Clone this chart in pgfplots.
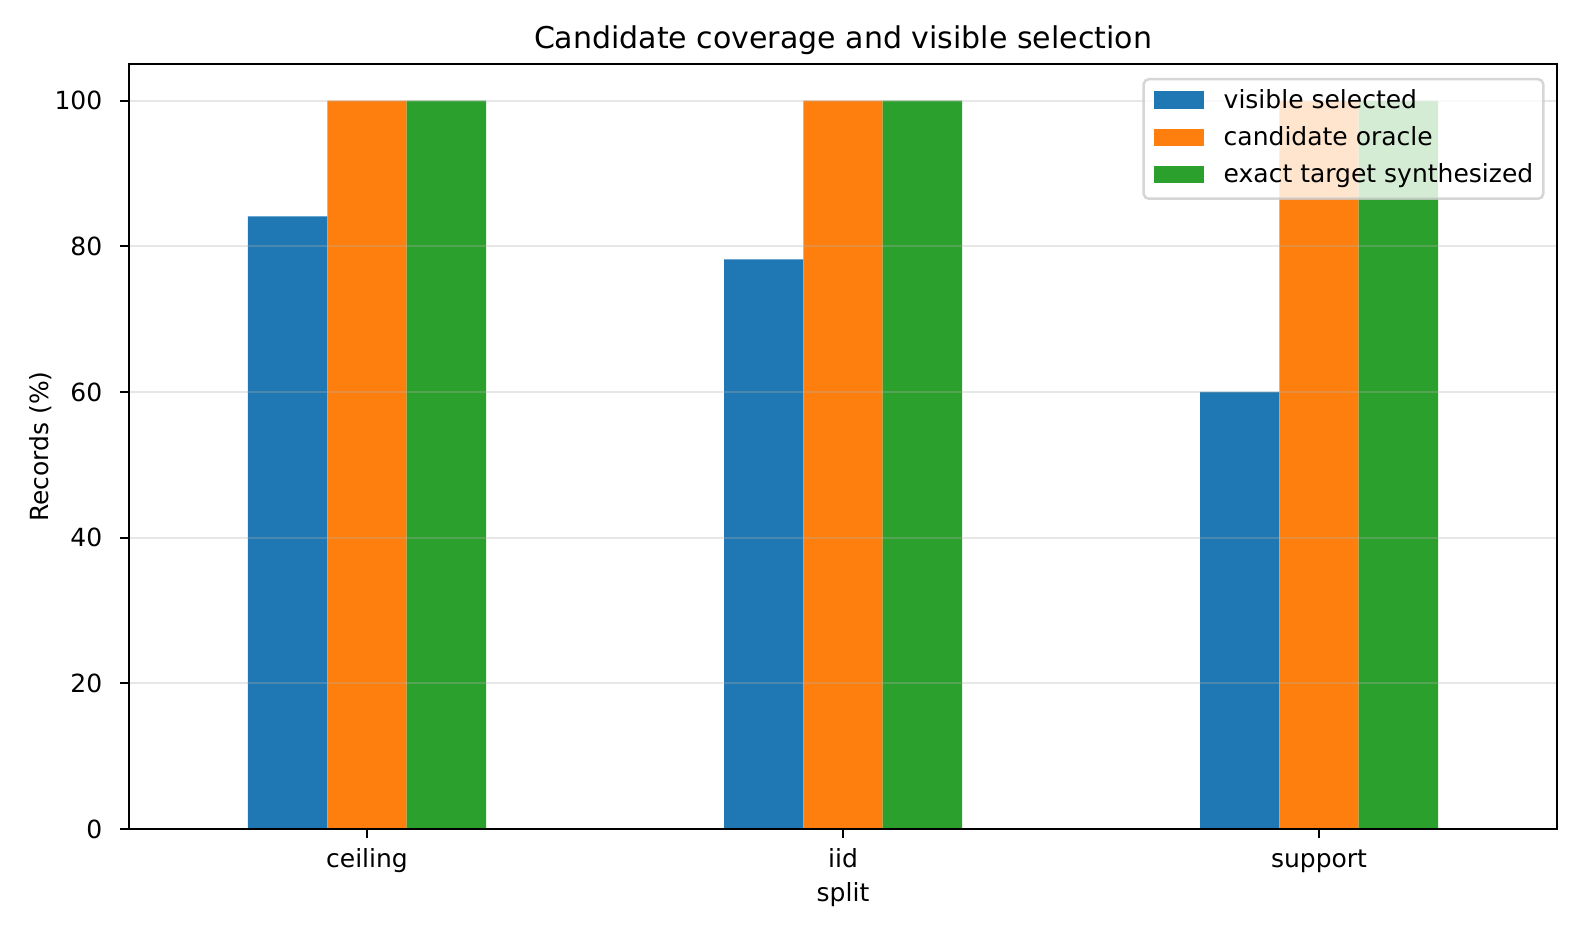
\documentclass[border=0pt]{standalone}
\usepackage{pgfplots}
\pgfplotsset{compat=1.18}
\usepackage{fontspec}
\setmainfont{DejaVu Sans}
\definecolor{cblue}{HTML}{1F77B4}
\definecolor{corange}{HTML}{FF7F0E}
\definecolor{cgreen}{HTML}{2CA02C}
\newcommand{\fsn}{\fontsize{10bp}{12bp}\selectfont}
\newcommand{\fst}{\fontsize{12bp}{14.4bp}\selectfont}
\begin{document}
\fsn
\begin{tikzpicture}
\useasboundingbox (0,0) rectangle (633.6bp,374.4bp);
\begin{axis}[
  at={(51.6bp,42.8bp)}, anchor=south west,
  scale only axis, width=571.2bp, height=305.9bp,
  xmin=-0.5, xmax=2.5, ymin=0, ymax=105,
  xtick={0,1,2}, xticklabels={ceiling,iid,support},
  ytick={0,20,40,60,80,100},
  tick pos=left, tick align=outside,
  major tick length=3.5bp,
  every tick/.style={black, line width=0.8bp},
  axis line style={line width=0.8bp},
  ymajorgrids,
  grid style={color=black!31, draw opacity=0.3, line width=0.8bp},
  axis on top,
  /pgf/number format/assume math mode=true,
  xticklabel style={font=\fsn, anchor=base, inner sep=0pt, yshift=-12bp},
  yticklabel style={font=\fsn, anchor=east, inner sep=0pt, xshift=-7bp},
  title={Candidate coverage and visible selection},
  every axis title/.style={font=\fst, at={(0.5,1)}, anchor=base, yshift=6.4bp, inner sep=0pt},
  xlabel={split},
  xlabel style={font=\fsn, at={([yshift=-28.8bp]axis description cs:0.5,0)}, anchor=base, inner sep=0pt},
  ylabel={Records (\%)},
  ylabel style={font=\fsn, at={([xshift=-32.3bp]axis description cs:0,0.5)}, anchor=base, rotate=0, inner sep=0pt},
  legend style={at={(1,1)}, anchor=north east, xshift=-5bp, yshift=-5.5bp,
    draw=black!20, draw opacity=0.8, line width=1bp, fill=white, fill opacity=0.8, text opacity=1,
    rounded corners=2bp, inner xsep=4bp, inner ysep=4bp, row sep=4.9bp, column sep=8bp, font=\fsn,
    nodes={inner sep=0pt, text height=7.6bp, text depth=2.4bp, anchor=base west}},
  legend cell align=left,
]
\addplot[ybar, fill=cblue, draw=none, bar width=0.1666667, bar shift=-0.1666667,
  legend image code/.code={\fill[fill=cblue, fill opacity=1, sharp corners] (0bp,-0.3bp) rectangle (20bp,6.7bp);}]
  coordinates {(0,84.1) (1,78.2) (2,60.0)};
\addplot[ybar, fill=corange, draw=none, bar width=0.1666667, bar shift=0,
  legend image code/.code={\fill[fill=corange, fill opacity=1, sharp corners] (0bp,-0.3bp) rectangle (20bp,6.7bp);}]
  coordinates {(0,100) (1,100) (2,100)};
\addplot[ybar, fill=cgreen, draw=none, bar width=0.1666667, bar shift=0.1666667,
  legend image code/.code={\fill[fill=cgreen, fill opacity=1, sharp corners] (0bp,-0.3bp) rectangle (20bp,6.7bp);}]
  coordinates {(0,100) (1,100) (2,100)};
\legend{visible selected, candidate oracle, exact target synthesized}
\end{axis}
\end{tikzpicture}
\end{document}
